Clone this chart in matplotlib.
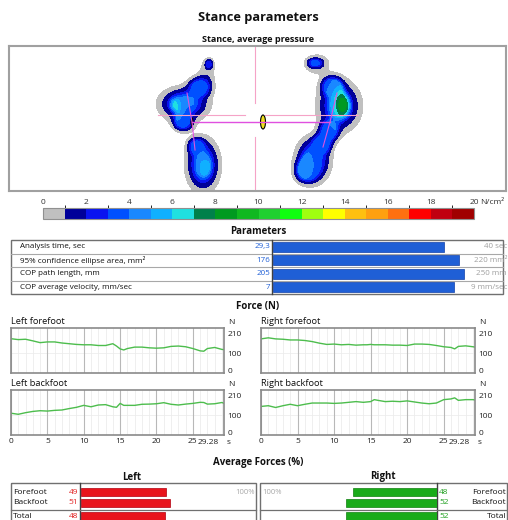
import numpy as np
import matplotlib as mpl
import matplotlib.pyplot as plt
from matplotlib.colors import ListedColormap, BoundaryNorm
from matplotlib.patches import Rectangle, Ellipse

plt.rcParams['font.family'] = ['Open Sans', 'DejaVu Sans']

W, H = 508, 520

# pressure scale (N/cm2)
level_bounds = list(range(0, 21))
level_colors = ['#c0c0c0', '#000099', '#0a14f0', '#0050ff', '#1a88ff', '#10b0ff',
                '#20e0e0', '#00804a', '#009a20', '#10b820', '#20d030', '#10ff10',
                '#a0ff10', '#ffff00', '#ffc010', '#ffa010', '#ff7010', '#ff0000',
                '#c00010', '#a00000']

# pressure map, foot contact regions (map px, spread, weight)
base_x = [184, 200, 183, 209, 207, 203, 196,
          315, 317, 332, 339, 329, 313, 322, 306]
base_y = [104, 87, 122, 64, 72, 165, 146,
          63, 64, 86, 106, 131, 160, 144, 171]
base_sx = [14, 7, 6, 2.6, 6.5, 9.5, 5,
           4.5, 9, 6.5, 12, 6, 10, 5.5, 6.5]
base_sy = [9.5, 6, 5.5, 3.2, 9, 15, 5,
           2.8, 7, 6, 14, 6.5, 13, 5.5, 6.5]
base_w = [1, 1, 1, 0.55, 0.22, 1, 0.8,
          0.65, 0.3, 1, 1, 1, 1, 1, 1]
base_level = 3.5

# pressure map, load peaks on top of the contact regions (N/cm2)
spot_x = [190, 173, 205, 341, 343, 305]
spot_y = [100, 107, 168, 104, 105, 165]
spot_sx = [10, 5.5, 6.5, 9, 5.5, 5.5]
spot_sy = [8, 7.5, 10, 15, 10, 9]
spot_val = [0.6, 3.2, 2.0, 2.3, 3.0, 1.5]

# centre of pressure markers
cop_x, cop_y = 263, 122
fore_left = (187, 93)
mid_left = (192, 122)
back_left = (195, 150)
fore_right = (337, 93)
mid_right = (330, 122)
back_right = (323, 147)

# parameters table
param_labels = ['Analysis time, sec', '95% confidence ellipse area, mm²',
                'COP path length, mm', 'COP average velocity, mm/sec']
param_values = [29.3, 176, 205, 7]
param_text = ['29,3', '176', '205', '7']
param_max = [40, 220, 250, 9]
param_max_text = ['40 sec', '220 mm²', '250 mm', '9 mm/sec']

# force curves (N)
t = [0, 1, 2, 3, 4, 5, 6, 7, 8, 9, 10, 11, 12, 13, 14, 14.5, 15, 15.5, 16, 17,
     18, 19, 20, 21, 22, 23, 24, 25, 26, 26.5, 27, 28, 29, 29.28]
left_fore = [180, 175, 177, 168, 158, 162, 162, 156, 152, 148, 146, 146, 142, 142,
             152, 139, 123, 117, 125, 133, 133, 129, 127, 129, 137, 139, 135, 125,
             112, 110, 125, 131, 120, 119]
right_fore = [179, 185, 179, 177, 173, 173, 170, 164, 155, 148, 150, 146, 148, 144,
              146, 146, 148, 146, 146, 146, 144, 144, 142, 150, 150, 148, 142, 135,
              131, 123, 137, 140, 135, 133]
left_back = [110, 104, 113, 120, 124, 122, 126, 128, 136, 143, 154, 146, 156, 158,
             146, 143, 165, 154, 154, 154, 160, 161, 163, 169, 160, 156, 161, 165,
             171, 170, 161, 163, 170, 165]
right_back = [148, 152, 142, 152, 160, 152, 160, 167, 167, 167, 165, 167, 171, 175,
              171, 173, 175, 186, 182, 175, 177, 175, 179, 173, 167, 163, 167, 186,
              190, 196, 182, 186, 186, 184]

# average forces (%)
zones = ['Forefoot', 'Backfoot', 'Total']
left_pct = [49, 51, 48]
right_pct = [48, 52, 52]


def box(l, t_, r, b):
    return [l / W, 1 - b / H, (r - l) / W, (b - t_) / H]


fig = plt.figure(figsize=(W / 100, H / 100), dpi=100)
ov = fig.add_axes([0, 0, 1, 1])
ov.set_xlim(0, W)
ov.set_ylim(H, 0)
ov.axis('off')

bold = dict(ha='center', va='center', fontweight='bold', color='#111111')
ov.text(258, 18, 'Stance parameters', fontsize=9.2, **bold)
ov.text(258, 39, 'Stance, average pressure', fontsize=6.5, **bold)
ov.text(258, 231, 'Parameters', fontsize=7, **bold)
ov.text(258, 307, 'Force (N)', fontsize=7, **bold)
ov.text(258, 462, 'Average Forces (%)', fontsize=7, **bold)
ov.text(132, 477, 'Left', fontsize=7, **bold)
ov.text(383, 477, 'Right', fontsize=7, **bold)

# pressure map
cmap = ListedColormap(level_colors)
norm = BoundaryNorm(level_bounds, cmap.N)
am = fig.add_axes(box(9, 46, 506, 191))
gx, gy = np.meshgrid(np.arange(9, 506, 0.5), np.arange(46, 191, 0.5))
F = np.zeros_like(gx)
for x0, y0, sx, sy, w in zip(base_x, base_y, base_sx, base_sy, base_w):
    F += w * np.exp(-0.5 * ((gx - x0) ** 2 / sx ** 2 + (gy - y0) ** 2 / sy ** 2))
base = base_level * np.clip((F - 0.12) / 0.68, 0, 1)
spots = np.zeros_like(gx)
for x0, y0, sx, sy, v in zip(spot_x, spot_y, spot_sx, spot_sy, spot_val):
    spots += v * np.exp(-0.5 * ((gx - x0) ** 2 / sx ** 2 + (gy - y0) ** 2 / sy ** 2))
P = base + spots * np.clip((base - 2) / 1.5, 0, 1)
am.contourf(gx, gy, P, levels=[0.1] + level_bounds[1:], colors=level_colors)
am.set_xlim(9, 506)
am.set_ylim(191, 46)
am.set_xticks([])
am.set_yticks([])
for s in am.spines.values():
    s.set_color('#a0a0a0')
    s.set_linewidth(1.5)
pink = '#f5a3c7'
mag = '#e050e0'
am.plot([cop_x - 8, cop_x - 8], [46, 103], color=pink, lw=0.8)
am.plot([cop_x - 8, cop_x - 8], [137, 191], color=pink, lw=0.8)
am.plot([158, 245], [115, 115], color=pink, lw=0.8)
am.plot([265, 358], [115, 115], color=pink, lw=0.8)
am.plot([mid_left[0], mid_right[0]], [mid_left[1], mid_right[1]], color=mag, lw=1)
am.plot([fore_left[0], mid_left[0], back_left[0]], [fore_left[1], mid_left[1], back_left[1]], color=mag, lw=0.8)
am.plot([fore_right[0], mid_right[0], back_right[0]], [fore_right[1], mid_right[1], back_right[1]], color=mag, lw=0.8)
am.add_patch(Ellipse((cop_x, cop_y), 5, 14, facecolor='#f0e020', edgecolor='black', lw=0.8))
am.add_patch(Ellipse(mid_left, 3, 10, facecolor='black', edgecolor='none'))

# colour bar
cax = fig.add_axes(box(43, 208, 474, 219))
cb = mpl.colorbar.ColorbarBase(cax, cmap=cmap, norm=norm, orientation='horizontal',
                               ticks=list(range(0, 21, 2)))
cb.outline.set_edgecolor('#909090')
cax.xaxis.set_ticks_position('top')
cax.tick_params(length=0, labelsize=6, pad=1.5, colors='#333333')
ov.text(480, 202, 'N/cm²', fontsize=6, ha='left', va='center', color='#333333')

# parameters table
row0, rowh = 240, 13.5
ov.add_patch(Rectangle((11, row0), 492, 4 * rowh, fill=False, edgecolor='#707070', lw=1))
for i in range(1, 4):
    ov.plot([11, 503], [row0 + i * rowh] * 2, color='#a8a8a8', lw=0.8)
ov.plot([272, 272], [row0, row0 + 4 * rowh], color='#404040', lw=1)
for i, (lab, vt, mt) in enumerate(zip(param_labels, param_text, param_max_text)):
    yc = row0 + (i + 0.5) * rowh
    ov.text(20, yc, lab, fontsize=5.8, ha='left', va='center', color='#111111')
    ov.text(270, yc, vt, fontsize=5.8, ha='right', va='center', color='#1f5fd6')
    ov.text(507, yc, mt, fontsize=5.8, ha='right', va='center', color='#a0a0a0')
ap = fig.add_axes(box(273, row0, 506, row0 + 4 * rowh))
ap.patch.set_alpha(0)
frac = np.array(param_values) / np.array(param_max)
ap.barh(np.arange(4), frac, height=0.72, color='#1f5fd6', edgecolor='#1040a8', lw=0.5)
ap.set_xlim(0, 1)
ap.set_ylim(3.5, -0.5)
ap.axis('off')

# force charts
green = '#4dbd4d'
charts = [(11, 224, 328, 373, 'Left forefoot', left_fore, False),
          (261, 475, 328, 373, 'Right forefoot', right_fore, False),
          (11, 224, 390, 435, 'Left backfoot', left_back, True),
          (261, 475, 390, 435, 'Right backfoot', right_back, True)]
for l, r, tp, bt, name, vals, bottom in charts:
    ax = fig.add_axes(box(l, tp, r, bt))
    ax.plot(t, vals, color=green, lw=1.0)
    ax.set_xlim(0, 29.28)
    ax.set_ylim(-12, 240)
    ax.set_xticks(range(0, 30, 5))
    ax.set_xticks(range(0, 30), minor=True)
    ax.grid(which='major', axis='x', color='#b8b8b8', lw=0.8)
    ax.grid(which='minor', axis='x', color='#ececec', lw=0.6)
    ax.axhline(100, color='#eeeeee', lw=0.6, zorder=0)
    ax.set_axisbelow(True)
    ax.yaxis.tick_right()
    ax.set_yticks([0, 100, 210])
    ax.tick_params(which='both', length=0, labelsize=6, pad=2.5, colors='#222222')
    if not bottom:
        ax.set_xticklabels([])
    for s in ax.spines.values():
        s.set_color('#8a8a8a')
        s.set_linewidth(1.2)
    ov.text(l, tp - 6, name, fontsize=6.7, ha='left', va='center', color='#111111')
    ov.text(r + 4, tp - 6, 'N', fontsize=6, ha='left', va='center', color='#222222')
    if bottom:
        ov.text(r - 5, 442, '29.28', fontsize=6, ha='right', va='center', color='#222222')
        ov.text(r + 3, 442, 's', fontsize=6, ha='left', va='center', color='#222222')

# average forces tables
top, pitch = 483, 11
ypos = np.array([0, 1, 2.2])
ylo, yhi = -9 / pitch, (H - top - 9) / pitch
for l, r, sep in [(11, 256, 80), (260, 507, 437)]:
    ov.add_patch(Rectangle((l, top), r - l, 60, fill=False, edgecolor='#707070', lw=1))
    ov.plot([sep, sep], [top, H], color='#404040', lw=1)
    ov.plot([l, r], [510, 510], color='#707070', lw=0.9)
for i, z in enumerate(zones):
    yc = top + 9 + ypos[i] * pitch
    ov.text(13, yc, z, fontsize=6, ha='left', va='center', color='#111111')
    ov.text(78, yc, str(left_pct[i]), fontsize=6, ha='right', va='center', color='#e02020')
    ov.text(439, yc, str(right_pct[i]), fontsize=6, ha='left', va='center', color='#20a020')
    ov.text(506, yc, z, fontsize=6, ha='right', va='center', color='#111111')
ov.text(255, top + 9, '100%', fontsize=5.5, ha='right', va='center', color='#a8a8a8')
ov.text(262, top + 9, '100%', fontsize=5.5, ha='left', va='center', color='#a8a8a8')

al = fig.add_axes(box(80.5, top, 255.5, H))
al.patch.set_alpha(0)
al.barh(ypos, left_pct, height=0.7, color='#e8141c', edgecolor='#b00010', lw=0.5)
al.set_xlim(0, 100)
al.set_ylim(yhi, ylo)
al.axis('off')

ar = fig.add_axes(box(262, top, 436.5, H))
ar.patch.set_alpha(0)
ar.barh(ypos, right_pct, height=0.7, color='#1aab1a', edgecolor='#108010', lw=0.5)
ar.set_xlim(100, 0)
ar.set_ylim(yhi, ylo)
ar.axis('off')

fig.savefig('out.png', dpi=100)
